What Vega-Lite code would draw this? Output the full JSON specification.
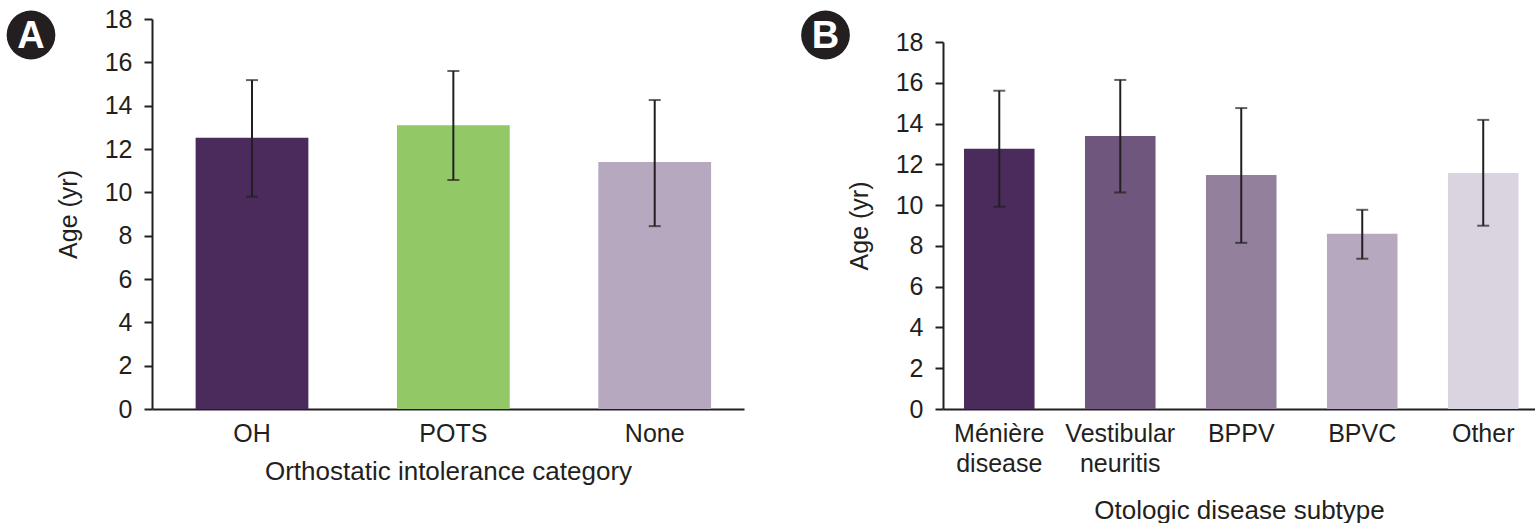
{
  "$schema": "https://vega.github.io/schema/vega-lite/v6.json",
  "background": "white",
  "padding": {"left": 0, "top": 7, "right": 0, "bottom": 0},
  "spacing": 0,
  "bounds": "flush",
  "resolve": {"scale": {"color": "independent", "y": "independent", "x": "independent"}},
  "config": {
    "view": {"stroke": null},
    "font": "Liberation Sans",
    "axis": {
      "domainColor": "#231f20", "domainWidth": 2,
      "tickColor": "#231f20", "tickWidth": 2, "tickSize": 8,
      "labelColor": "#231f20", "titleColor": "#231f20",
      "labelFont": "Liberation Sans", "titleFont": "Liberation Sans",
      "labelFontSize": 25, "titleFontSize": 26, "titleFontWeight": "normal",
      "grid": false
    },
    "axisX": {"ticks": false, "tickSize": 0, "labelAngle": 0, "labelPadding": 12, "titlePadding": 12},
    "axisY": {"labelPadding": 12, "titlePadding": 23, "titleFontSize": 25}
  },
  "datasets": {
    "panelA": [
      {"category": "OH", "mean": 12.52, "lo": 9.8, "hi": 15.18},
      {"category": "POTS", "mean": 13.1, "lo": 10.57, "hi": 15.6},
      {"category": "None", "mean": 11.4, "lo": 8.44, "hi": 14.26}
    ],
    "panelB": [
      {"subtype": "Ménière disease", "mean": 12.76, "lo": 9.92, "hi": 15.61},
      {"subtype": "Vestibular neuritis", "mean": 13.39, "lo": 10.62, "hi": 16.14},
      {"subtype": "BPPV", "mean": 11.48, "lo": 8.15, "hi": 14.76},
      {"subtype": "BPVC", "mean": 8.59, "lo": 7.37, "hi": 9.77},
      {"subtype": "Other", "mean": 11.58, "lo": 8.99, "hi": 14.18}
    ],
    "badgeA": [{"label": "A"}],
    "badgeB": [{"label": "B"}],
    "empty": []
  },
  "hconcat": [
    {
      "width": 62, "height": 32,
      "data": {"name": "badgeA"},
      "layer": [
        {"mark": {"type": "point", "filled": true, "size": 2376, "color": "#231f20", "opacity": 1, "strokeWidth": 0}, "encoding": {}},
        {"mark": {"type": "text", "color": "white", "fontSize": 38, "fontWeight": "bold", "font": "Liberation Sans", "baseline": "middle", "align": "center", "dy": 2}, "encoding": {"text": {"field": "label"}}}
      ]
    },
    {"width": 90, "height": 32, "data": {"name": "empty"}, "mark": "point", "encoding": {}},
    {
      "width": 592, "height": 390,
      "data": {"name": "panelA"},
      "encoding": {
        "x": {
          "field": "category", "type": "nominal", "sort": null,
          "scale": {"paddingInner": 0.44, "paddingOuter": 0.19, "align": 0.57},
          "axis": {"title": "Orthostatic intolerance category"}
        }
      },
      "layer": [
        {
          "mark": {"type": "bar"},
          "encoding": {
            "y": {
              "field": "mean", "type": "quantitative",
              "scale": {"domain": [0, 18], "nice": false},
              "axis": {"title": "Age (yr)", "values": [0, 2, 4, 6, 8, 10, 12, 14, 16, 18]}
            },
            "color": {
              "field": "category", "type": "nominal", "legend": null,
              "scale": {"domain": ["OH", "POTS", "None"], "range": ["#4a2b5b", "#92c966", "#b5a8bf"]}
            }
          }
        },
        {
          "mark": {"type": "rule", "color": "#231f20", "strokeWidth": 2},
          "encoding": {"y": {"field": "lo", "type": "quantitative"}, "y2": {"field": "hi"}}
        },
        {
          "mark": {"type": "tick", "color": "#231f20", "thickness": 2, "size": 12, "orient": "horizontal"},
          "encoding": {"y": {"field": "hi", "type": "quantitative"}}
        },
        {
          "mark": {"type": "tick", "color": "#231f20", "thickness": 2, "size": 12, "orient": "horizontal"},
          "encoding": {"y": {"field": "lo", "type": "quantitative"}}
        }
      ]
    },
    {"width": 54, "height": 32, "data": {"name": "empty"}, "mark": "point", "encoding": {}},
    {
      "width": 55, "height": 32,
      "data": {"name": "badgeB"},
      "layer": [
        {"mark": {"type": "point", "filled": true, "size": 2376, "color": "#231f20", "opacity": 1, "strokeWidth": 0}, "encoding": {}},
        {"mark": {"type": "text", "color": "white", "fontSize": 38, "fontWeight": "bold", "font": "Liberation Sans", "baseline": "middle", "align": "center", "dy": 2}, "encoding": {"text": {"field": "label"}}}
      ]
    },
    {"width": 90, "height": 32, "data": {"name": "empty"}, "mark": "point", "encoding": {}},
    {
      "width": 592, "height": 390,
      "data": {"name": "panelB"},
      "encoding": {
        "x": {
          "field": "subtype", "type": "nominal", "sort": null,
          "scale": {"paddingInner": 0.417, "paddingOuter": 0.155, "align": 0.56},
          "axis": {"title": "Otologic disease subtype", "labelExpr": "split(datum.label, ' ')", "labelLineHeight": 30, "titlePadding": 21}
        }
      },
      "layer": [
        {
          "mark": {"type": "bar"},
          "encoding": {
            "y": {
              "field": "mean", "type": "quantitative",
              "scale": {"domain": [0, 18], "nice": false, "range": [390, 23]},
              "axis": {"title": "Age (yr)", "values": [0, 2, 4, 6, 8, 10, 12, 14, 16, 18]}
            },
            "color": {
              "field": "subtype", "type": "nominal", "legend": null,
              "scale": {
                "domain": ["Ménière disease", "Vestibular neuritis", "BPPV", "BPVC", "Other"],
                "range": ["#4a2b5b", "#6e567c", "#92809c", "#b5a8bf", "#dad4e1"]
              }
            }
          }
        },
        {
          "mark": {"type": "rule", "color": "#231f20", "strokeWidth": 2},
          "encoding": {"y": {"field": "lo", "type": "quantitative"}, "y2": {"field": "hi"}}
        },
        {
          "mark": {"type": "tick", "color": "#231f20", "thickness": 2, "size": 12, "orient": "horizontal"},
          "encoding": {"y": {"field": "hi", "type": "quantitative"}}
        },
        {
          "mark": {"type": "tick", "color": "#231f20", "thickness": 2, "size": 12, "orient": "horizontal"},
          "encoding": {"y": {"field": "lo", "type": "quantitative"}}
        }
      ]
    }
  ]
}
